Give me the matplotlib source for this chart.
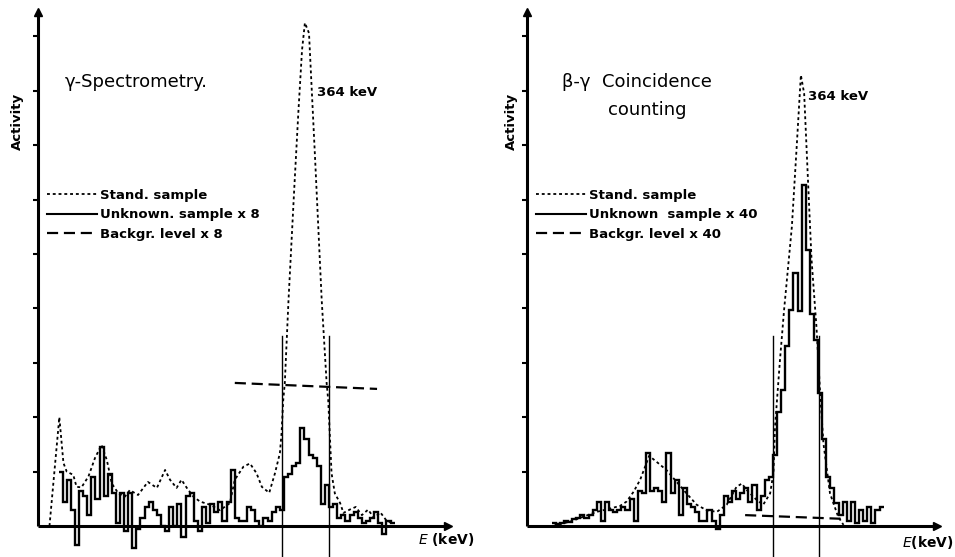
import matplotlib
matplotlib.use("Agg")
import matplotlib.pyplot as plt
import numpy as np

plt.rcParams['font.family'] = ['DejaVu Sans']
plt.rcParams['mathtext.fontset'] = 'dejavusans'

# ---------------- gamma spectrometry panel ----------------
gs_std_x = [2.8, 5.2, 6.2, 7.0, 8.6, 9.4, 10.6, 12.3, 13.9, 15.5, 16.8, 18.0, 19.6,
            21.2, 22.4, 24.4, 26.8, 29.0, 31.0, 32.2, 33.8, 35.0, 36.3, 37.9, 39.5,
            42.0, 44.4, 46.8, 48.0, 50.1, 51.7, 53.3, 54.6, 56.4, 57.8, 59.0, 59.4,
            59.8, 60.2, 61.1, 62.5, 63.5, 64.4, 65.1, 66.1, 67.6, 69.2, 70.4, 70.8,
            71.6, 72.4, 73.7, 74.5, 76.0, 77.5, 79.0, 80.5, 82.0, 83.5, 85.0, 86.5]
gs_std_y = [0.0, 2.0, 1.16, 1.0, 0.94, 0.72, 0.71, 0.91, 1.25, 1.49, 1.21, 0.78, 0.6,
            0.54, 0.66, 0.57, 0.81, 0.70, 1.03, 0.85, 0.70, 0.85, 0.70, 0.54, 0.45,
            0.39, 0.29, 0.42, 0.85, 1.09, 1.15, 0.97, 0.72, 0.61, 0.97, 1.34, 1.7,
            2.3, 2.63, 4.15, 6.2, 7.6, 8.75, 9.25, 9.06, 6.73, 4.15, 2.63, 2.3,
            0.97, 0.6, 0.42, 0.24, 0.3, 0.35, 0.2, 0.3, 0.15, 0.25, 0.1, 0.05]

gs_unk_start = 5
gs_unk = [1.0, 0.45, 0.85, 0.3, -0.35, 0.65, 0.55, 0.2, 0.9, 0.5,
          1.45, 0.55, 0.95, 0.6, 0.05, 0.6, -0.1, 0.6, -0.4, -0.05,
          0.15, 0.35, 0.45, 0.3, 0.2, 0.0, -0.1, 0.35, 0.0, 0.4,
          -0.2, 0.55, 0.6, 0.1, -0.1, 0.35, 0.05, 0.4, 0.25, 0.45,
          0.1, 0.45, 1.03, 0.15, 0.1, 0.1, 0.35, 0.3, 0.1, 0.0,
          0.15, 0.1, 0.25, 0.35, 0.3, 0.9, 0.95, 1.1, 1.15, 1.8,
          1.6, 1.3, 1.25, 1.1, 0.4, 0.75, 0.35, 0.4, 0.15, 0.2,
          0.1, 0.2, 0.25, 0.15, 0.05, 0.1, 0.15, 0.25, 0.05, -0.15,
          0.1, 0.05]

gs_bg_x = [48.0, 82.7]
gs_bg_y = [2.63, 2.52]
gs_window = [59.6, 71.1]
gs_window_top = 3.5

# ---------------- beta-gamma coincidence panel ----------------
bg_std_x = [6.4, 10.5, 13.7, 17.0, 20.2, 22.7, 24.3, 26.0, 27.6, 29.8, 31.6, 34.0,
            36.5, 38.9, 41.4, 43.8, 46.3, 48.7, 51.1, 52.4, 53.6, 56.0, 57.6, 59.3,
            60.1, 60.5, 61.7, 62.7, 64.6, 65.8, 66.8, 67.6, 68.6, 69.4, 70.6, 71.5,
            72.3, 73.9, 75.9, 77.2]
bg_std_y = [0.0, 0.08, 0.17, 0.26, 0.32, 0.37, 0.45, 0.63, 0.85, 1.29, 1.18, 1.03,
            0.81, 0.6, 0.39, 0.29, 0.26, 0.39, 0.72, 0.78, 0.66, 0.48, 0.39, 0.6,
            0.97, 1.83, 3.05, 3.97, 5.5, 7.0, 8.29, 7.95, 6.24, 4.9, 3.66, 2.44,
            1.52, 0.6, 0.17, 0.02]

bg_unk_start = 6
bg_unk = [0.05, 0.03, 0.05, 0.1, 0.08, 0.12, 0.15, 0.2, 0.15, 0.2,
          0.3, 0.45, 0.1, 0.45, 0.3, 0.25, 0.3, 0.35, 0.3, 0.5,
          0.1, 0.65, 0.6, 1.35, 0.65, 0.7, 0.65, 0.45, 1.35, 0.6,
          0.85, 0.2, 0.7, 0.4, 0.35, 0.25, 0.1, 0.1, 0.3, 0.1,
          -0.05, 0.2, 0.55, 0.45, 0.65, 0.5, 0.6, 0.7, 0.45, 0.75,
          0.3, 0.55, 0.85, 0.9, 1.3, 2.1, 2.5, 3.3, 3.97, 4.65,
          3.95, 6.27, 5.07, 3.9, 3.42, 2.44, 1.6, 0.9, 0.7, 0.42,
          0.2, 0.45, 0.1, 0.45, 0.05, 0.3, 0.1, 0.35, 0.05, 0.3,
          0.35]

bg_bg_x = [53.2, 77.6]
bg_bg_y = [0.2, 0.13]
bg_window = [60.0, 71.3]
bg_window_top = 3.5

n_ticks = 9
x_end = 100
y_top = 9.45

DOT = (0, (1.6, 1.6))
DASH = (0, (5.0, 2.6))


def draw_panel(ax, std_x, std_y, unk_start, unk, bgx, bgy, window, wtop,
               labels, title_lines, peak_label, peak_xy, act_x, e_xy):
    ax.set_xlim(-8, 106)
    ax.set_ylim(-0.57, 9.6)
    for s in ax.spines.values():
        s.set_visible(False)

    # axes with arrow heads
    ax.plot([0, x_end], [0, 0], color='black', lw=2.2, solid_capstyle='butt', clip_on=False)
    ax.plot([0, 0], [0, y_top], color='black', lw=2.2, solid_capstyle='butt', clip_on=False)
    ax.plot([x_end], [0], marker='>', color='black', ms=6, clip_on=False)
    ax.plot([0], [y_top], marker='^', color='black', ms=6, clip_on=False)

    ax.set_xticks([])
    ax.set_yticks(np.arange(1, n_ticks + 1))
    ax.set_yticklabels([])
    ax.tick_params(axis='y', direction='out', length=3.5, width=1.5, pad=0)
    ax.spines['left'].set_position(('data', 0))

    l_std, = ax.plot(std_x, std_y, color='black', lw=1.3, linestyle=DOT)
    edges = np.arange(unk_start, unk_start + len(unk) + 1)
    ax.stairs(unk, edges, baseline=None, color='black', lw=1.7)
    l_bg, = ax.plot(bgx, bgy, color='black', lw=1.6, linestyle=DASH)

    for wx in window:
        ax.plot([wx, wx], [-0.6, wtop], color='black', lw=1.0, clip_on=False)

    h_unk, = ax.plot([], [], color='black', lw=1.5)
    ax.legend([l_std, h_unk, l_bg], labels, loc='upper left',
              bbox_to_anchor=(2.2, 6.2), bbox_transform=ax.transData,
              frameon=False, handlelength=3.8, handletextpad=0.25,
              labelspacing=0.5, borderpad=0, borderaxespad=0,
              prop={'weight': 'bold', 'size': 9.5})

    for (tx, ty, tt) in title_lines:
        ax.text(tx, ty, tt, fontsize=13, ha='left', va='center')
    ax.text(peak_xy[0], peak_xy[1], peak_label, fontsize=9.5, fontweight='bold',
            ha='left', va='center')
    ax.text(act_x, 7.44, 'Activity', rotation=90, fontsize=9.5, fontweight='bold',
            ha='center', va='center')
    ax.text(e_xy[0], e_xy[1], e_xy[2], fontsize=10, fontweight='bold',
            ha='left', va='center', clip_on=False)


fig = plt.figure(figsize=(9.55, 5.57), dpi=100)
ax1 = fig.add_axes([0.00545, 0.0, 0.4894, 0.9932])
ax2 = fig.add_axes([0.5175, 0.0, 0.4894, 0.9932])
for a in (ax1, ax2):
    a.patch.set_alpha(0)

draw_panel(ax1, gs_std_x, gs_std_y, gs_unk_start, gs_unk, gs_bg_x, gs_bg_y,
           gs_window, gs_window_top,
           ['Stand. sample', 'Unknown. sample x 8', 'Backgr. level x 8'],
           [(6.6, 8.16, 'γ-Spectrometry.')],
           '364 keV', (68.0, 7.96), -4.9, (92.7, -0.24, r'$\mathit{E}$ (keV)'))

draw_panel(ax2, bg_std_x, bg_std_y, bg_unk_start, bg_unk, bg_bg_x, bg_bg_y,
           bg_window, bg_window_top,
           ['Stand. sample', 'Unknown  sample x 40', 'Backgr. level x 40'],
           [(8.5, 8.16, 'β-γ  Coincidence'), (19.8, 7.65, 'counting')],
           '364 keV', (68.5, 7.89), -3.9, (91.5, -0.31, r'$\mathit{E}$(keV)'))

fig.savefig('out.png', dpi=100)
